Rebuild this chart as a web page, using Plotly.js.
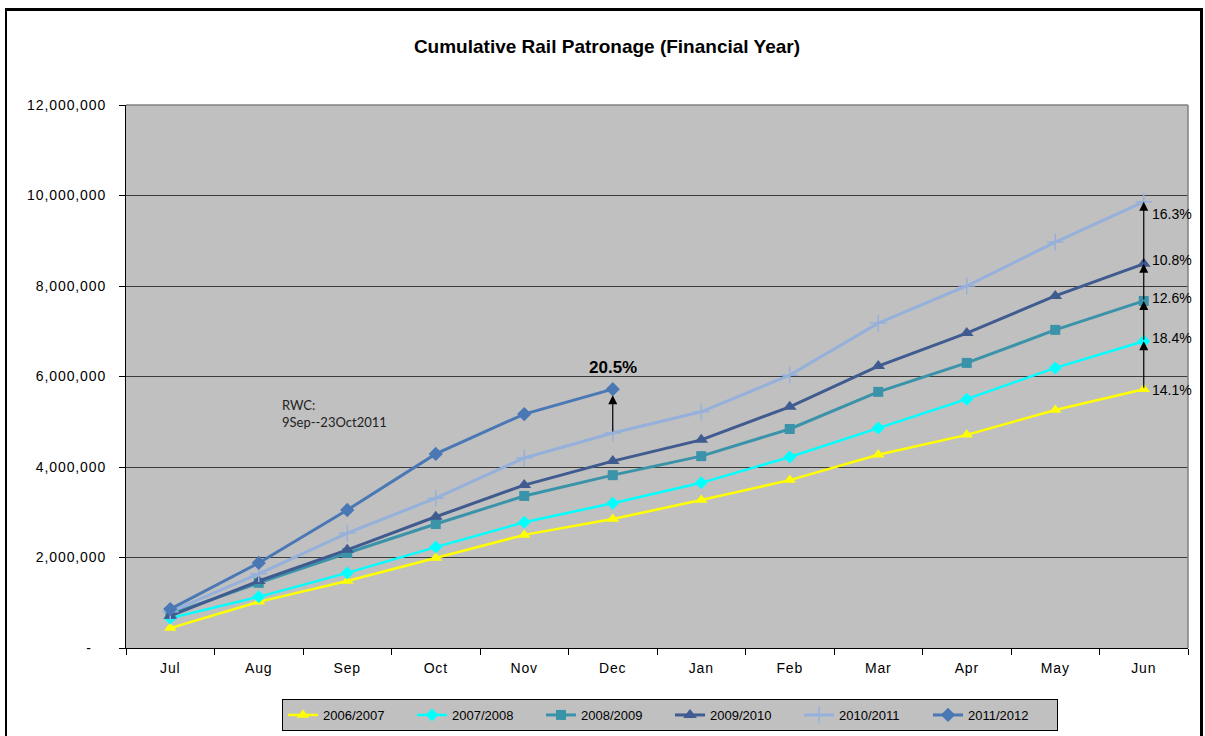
<!DOCTYPE html>
<html>
<head>
<meta charset="utf-8">
<script src="https://cdn.plot.ly/plotly-3.0.1.min.js"></script>
<style>
  html, body { margin: 0; padding: 0; background: #ffffff; }
  #wrap { position: relative; width: 1205px; height: 736px; overflow: hidden; }
  #chart { width: 1205px; height: 736px; }
  #frame { position: absolute; left: 5px; top: 8px; width: 1193px; height: 760px;
           border-left: 2px solid #000; border-top: 3px solid #000; border-right: 3px solid #000;
           pointer-events: none; }
  .yaxislayer-above text { letter-spacing: 0.9px; }
  .xaxislayer-above text { letter-spacing: 0.8px; }
</style>
</head>
<body>
<div id="wrap">
  <div id="chart"></div>
  <div id="frame"></div>
</div>
<script>
// ---- data ----
const months = ["Jul", "Aug", "Sep", "Oct", "Nov", "Dec", "Jan", "Feb", "Mar", "Apr", "May", "Jun"];

const fy2006_07 = [440000, 1020000, 1480000, 1990000, 2500000, 2850000, 3270000, 3710000, 4270000, 4710000, 5260000, 5720000];
const fy2007_08 = [660000, 1130000, 1660000, 2230000, 2780000, 3200000, 3650000, 4220000, 4860000, 5500000, 6190000, 6780000];
const fy2008_09 = [750000, 1440000, 2100000, 2740000, 3360000, 3820000, 4240000, 4840000, 5660000, 6300000, 7030000, 7670000];
const fy2009_10 = [710000, 1480000, 2170000, 2900000, 3600000, 4130000, 4600000, 5330000, 6230000, 6960000, 7780000, 8490000];
const fy2010_11 = [800000, 1640000, 2540000, 3310000, 4200000, 4750000, 5220000, 6030000, 7180000, 8000000, 8970000, 9860000];
const fy2011_12 = [860000, 1880000, 3050000, 4290000, 5170000, 5720000];

const seriesNames = ["2006/2007", "2007/2008", "2008/2009", "2009/2010", "2010/2011", "2011/2012"];

const yTickVals = [0, 2000000, 4000000, 6000000, 8000000, 10000000, 12000000];
const yTickText = ["-\u00a0\u00a0\u00a0", "2,000,000", "4,000,000", "6,000,000", "8,000,000", "10,000,000", "12,000,000"];

// growth labels at June (bottom to top series order 2006/07 .. 2010/11)
const junLabels = ["14.1%", "18.4%", "12.6%", "10.8%", "16.3%"];
const decLabel = "20.5%";
const rwcNote = "RWC:<br>9Sep--23Oct2011";

// ---- styles ----
const styles = [
  {color: "#ffff00", symbol: "triangle-up", size: 11, width: 2.5},
  {color: "#00ffff", symbol: "diamond", size: 10, width: 2.5},
  {color: "#3b93aa", symbol: "square", size: 10, width: 3},
  {color: "#3f5b8f", symbol: "triangle-up", size: 12, width: 3},
  {color: "#95b0db", symbol: "cross-thin", size: 12, width: 3},
  {color: "#4a78b5", symbol: "diamond", size: 11, width: 3}
];
const allSeries = [fy2006_07, fy2007_08, fy2008_09, fy2009_10, fy2010_11, fy2011_12];

const traces = allSeries.map((vals, i) => ({
  type: "scatter",
  mode: "lines+markers",
  name: seriesNames[i],
  x: months.slice(0, vals.length),
  y: vals,
  line: {color: styles[i].color, width: styles[i].width},
  marker: {
    color: styles[i].color,
    symbol: styles[i].symbol,
    size: styles[i].size,
    line: {color: styles[i].color, width: styles[i].symbol === "cross-thin" ? 1.5 : 0}
  },
  hoverinfo: "x+y+name"
}));

const lastIdx = months.length - 1;
const junVals = allSeries.slice(0, 5).map(s => s[lastIdx]);
const labelShift = [-1, 3, 3, 4, -12];

const annotations = [];
for (let i = 0; i < 4; i++) {
  annotations.push({
    x: months[lastIdx], y: junVals[i + 1], xref: "x", yref: "y",
    ax: months[lastIdx], ay: junVals[i], axref: "x", ayref: "y",
    text: "", showarrow: true, arrowhead: 2, arrowsize: 1.5, arrowwidth: 1.2,
    arrowcolor: "#000000", standoff: 0, startstandoff: 0
  });
}
junLabels.forEach((t, i) => {
  annotations.push({
    x: months[lastIdx], y: junVals[i], xref: "x", yref: "y",
    text: t, showarrow: false, xanchor: "left", yanchor: "middle",
    xshift: 6, yshift: labelShift[i],
    font: {family: "Liberation Sans, Arial, sans-serif", size: 14, color: "#000"}
  });
});
annotations.push({
  x: months[5], y: fy2011_12[5], xref: "x", yref: "y",
  ax: months[5], ay: fy2010_11[5], axref: "x", ayref: "y",
  text: "", showarrow: true, arrowhead: 2, arrowsize: 1.5, arrowwidth: 1.2,
  arrowcolor: "#000000", standoff: 6, startstandoff: 0
});
annotations.push({
  x: months[5], y: fy2011_12[5], xref: "x", yref: "y",
  text: "<b>" + decLabel + "</b>", showarrow: false, xanchor: "center", yanchor: "middle",
  yshift: 22,
  font: {family: "Liberation Sans, Arial, sans-serif", size: 17, color: "#000"}
});
annotations.push({
  x: 0.145, y: 0.431, xref: "paper", yref: "paper",
  text: rwcNote, showarrow: false, xanchor: "left", yanchor: "middle", align: "left",
  font: {family: "Lato, Noto Sans, sans-serif", size: 13, color: "#222"}
});

const layout = {
  width: 1205, height: 736,
  margin: {l: 126, r: 17, t: 105, b: 88},
  paper_bgcolor: "rgba(0,0,0,0)",
  plot_bgcolor: "#c0c0c0",
  font: {family: "Liberation Sans, Arial, sans-serif", size: 14, color: "#000"},
  title: {
    text: "<b>Cumulative Rail Patronage (Financial Year)</b>",
    x: 0.5037, xanchor: "center", y: 0.9375, yanchor: "middle",
    font: {family: "Liberation Sans, Arial, sans-serif", size: 19, color: "#000"}
  },
  xaxis: {
    type: "category",
    categoryorder: "array", categoryarray: months,
    range: [-0.5, 11.5],
    showgrid: false, zeroline: false,
    showline: true, linecolor: "#000", linewidth: 1,
    ticks: "outside", tickson: "boundaries", ticklen: 6, tickcolor: "#000",
    ticklabelstandoff: 7,
    tickfont: {size: 14}
  },
  yaxis: {
    range: [0, 12000000],
    tickvals: yTickVals, ticktext: yTickText,
    showgrid: true, gridcolor: "#3c3c3c", gridwidth: 1,
    zeroline: false,
    showline: true, linecolor: "#000", linewidth: 1,
    ticks: "outside", ticklen: 6, tickcolor: "#000",
    ticklabelstandoff: 10,
    tickfont: {size: 14}
  },
  showlegend: true,
  legend: {
    orientation: "h",
    xref: "container", yref: "container",
    x: 282 / 1205, xanchor: "left",
    y: 1 - 699 / 736, yanchor: "top",
    bgcolor: "#c0c0c0", bordercolor: "#000", borderwidth: 1,
    entrywidth: 84, entrywidthmode: "pixels",
    font: {family: "Liberation Sans, Arial, sans-serif", size: 13, color: "#000"},
    itemclick: false, itemdoubleclick: false
  },
  shapes: [
    {type: "line", xref: "paper", yref: "paper", x0: 0, x1: 1, y0: 1, y1: 1,
     line: {color: "#808080", width: 1.5}, layer: "above"},
    {type: "line", xref: "paper", yref: "paper", x0: 1, x1: 1, y0: 0, y1: 1,
     line: {color: "#808080", width: 1.5}, layer: "above"}
  ],
  annotations: annotations,
  hovermode: "closest"
};

Plotly.newPlot("chart", traces, layout, {displayModeBar: false, responsive: false});
</script>
</body>
</html>
